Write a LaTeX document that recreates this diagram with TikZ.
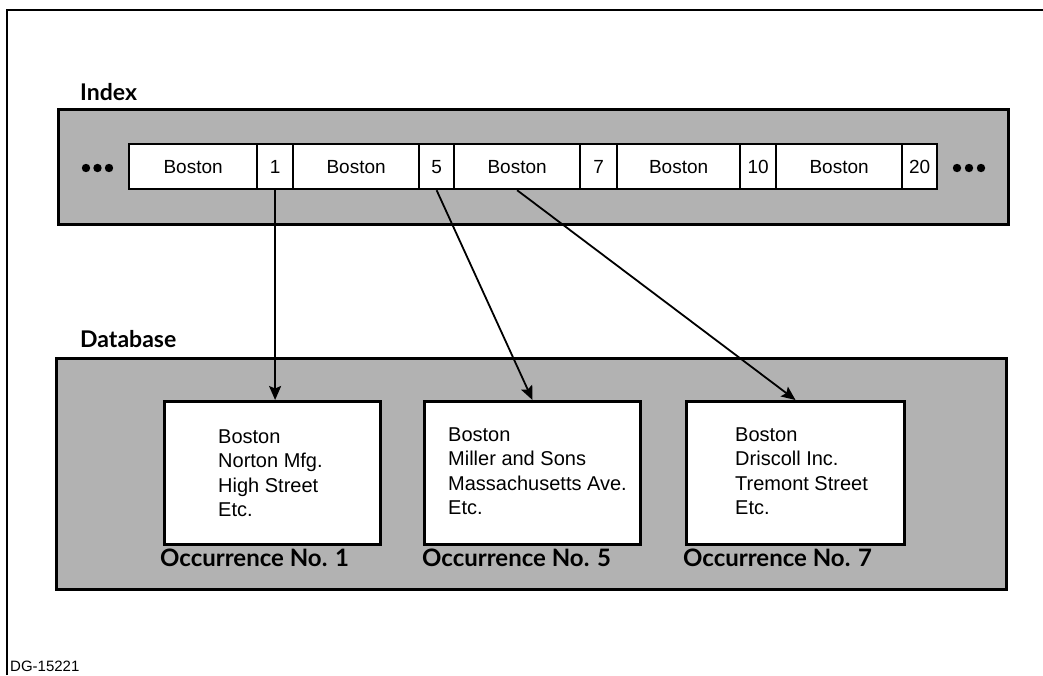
\documentclass[tikz,border=0pt]{standalone}
\usepackage{fontspec}
\setmainfont{Liberation Sans}
\newfontfamily\labelfont{Lato}
\usetikzlibrary{arrows.meta}
\definecolor{shade}{gray}{0.70}
\tikzset{
  panel/.style={draw=black, line width=3pt, fill=shade, anchor=north west, inner sep=0pt},
  cell/.style={draw=black, line width=2.2pt, fill=white, anchor=north west, minimum height=45pt, inner sep=0pt, font=\fontsize{19}{22}\selectfont},
  occ/.style={draw=black, line width=3pt, fill=white, anchor=north west, minimum width=216pt, minimum height=143pt, inner sep=0pt},
  occtext/.style={anchor=base west, align=left, inner sep=0pt, font=\fontsize{20}{24.5}\selectfont},
  head/.style={anchor=base west, inner sep=0pt, font=\labelfont\bfseries\fontsize{23}{26}\selectfont},
  occlabel/.style={anchor=base west, inner sep=0pt, font=\labelfont\bfseries\fontsize{24}{27}\selectfont},
  link/.style={line width=1.8pt, -{Stealth[length=14pt,width=12pt,inset=2.5pt]}},
  frameline/.style={line width=2pt}
}
\begin{document}
\begin{tikzpicture}[x=1pt,y=-1pt]
\useasboundingbox (0,0) rectangle (1043,675);
% frame
\coordinate (fbl) at (7,675);
\coordinate (ftl) at (7,10);
\coordinate (ftr) at (1043,10);
\draw[frameline] (fbl) -- (ftl) -- (ftr);
% headings
\node[head] (indexlbl) at (80,100) {Index};
\node[head] (dblbl) at (80,347) {Database};
% panels
\node[panel, minimum width=950pt, minimum height=115pt] (index) at (57,108) {};
\node[panel, minimum width=950pt, minimum height=231pt] (db) at (55,357) {};
% index cells
\node[cell, minimum width=128pt] (b1) at (128,143) {Boston};
\node[cell, minimum width=36pt]  (n1) at (256,143) {1};
\node[cell, minimum width=126pt] (b2) at (292,143) {Boston};
\node[cell, minimum width=35pt]  (n5) at (418,143) {5};
\node[cell, minimum width=126pt] (b3) at (453,143) {Boston};
\node[cell, minimum width=37pt]  (n7) at (579,143) {7};
\node[cell, minimum width=123pt] (b4) at (616,143) {Boston};
\node[cell, minimum width=36pt]  (n10) at (739,143) {10};
\node[cell, minimum width=126pt] (b5) at (775,143) {Boston};
\node[cell, minimum width=35pt]  (n20) at (901,143) {20};
% ellipsis dots
\foreach \x in {86,97.5,109,957,969,981} \fill (\x,168) circle (4.2pt);
% occurrence boxes
\node[occ] (occ1) at (163,400) {};
\node[occ] (occ2) at (423,400) {};
\node[occ, minimum width=218pt] (occ3) at (685,400) {};
\node[occtext] (t1) at (218,516.5) {Boston\\Norton Mfg.\\High Street\\Etc.};
\node[occtext] (t2) at (448,514.5) {Boston\\Miller and Sons\\Massachusetts Ave.\\Etc.};
\node[occtext] (t3) at (735,514.5) {Boston\\Driscoll Inc.\\Tremont Street\\Etc.};
\node[occlabel] (l1) at (160,566) {Occurrence No. 1};
\node[occlabel] (l2) at (422,566) {Occurrence No. 5};
\node[occlabel] (l3) at (683,566) {Occurrence No. 7};
% connectors
\draw[link] (n1.south) -- (n1.south |- occ1.north);
\draw[link] (n5.south) -- (occ2.north);
\draw[link] (b3.south) -- (occ3.north);
% figure id
\node[anchor=base west, inner sep=0pt, font=\fontsize{15}{18}\selectfont] (dg) at (10,671) {DG-15221};
\end{tikzpicture}
\end{document}
